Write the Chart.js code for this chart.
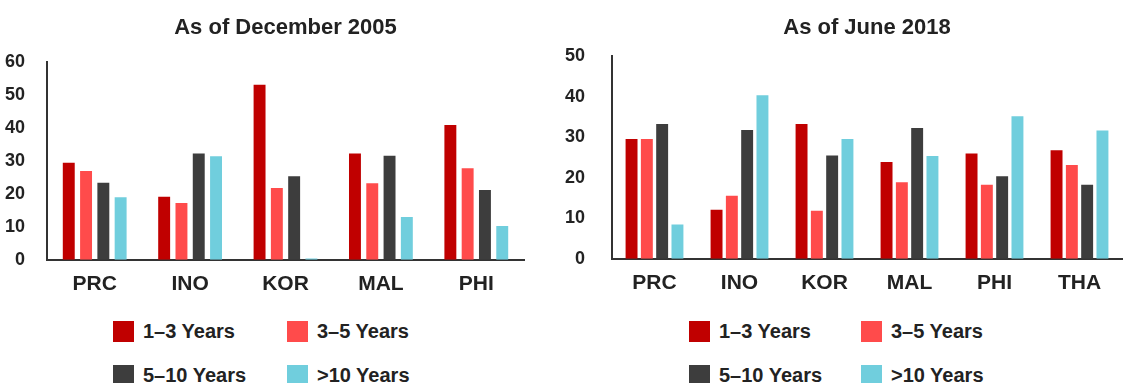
<!DOCTYPE html>
<html>
<head>
<meta charset="utf-8">
<script src="https://cdn.jsdelivr.net/npm/chart.js@4/dist/chart.umd.min.js"></script>
<style>
  body { margin: 0; background: #fff; width: 1127px; height: 383px; overflow: hidden; position: relative; font-family: "Liberation Sans", Arial, sans-serif; }
  .box { position: absolute; top: 0; height: 308px; }
  .legend { position: absolute; font-weight: bold; font-size: 20px; color: #222; }
  .item { position: absolute; white-space: nowrap; line-height: 21px; }
  .item span.sw { position: absolute; left: 0; top: 0; width: 21px; height: 21px; }
  .item span.tx { position: absolute; top: 0; }
</style>
</head>
<body>
<div class="box" style="left:0;width:545px"><canvas id="chart2005"></canvas></div>
<div class="box" style="left:545px;width:582px"><canvas id="chart2018"></canvas></div>
<div class="legend" id="legend2005"></div>
<div class="legend" id="legend2018"></div>
<script>
// series labels and colours
const seriesNames = ['1–3 Years', '3–5 Years', '5–10 Years', '>10 Years'];
const seriesColors = ['#C00000', '#FF4B4B', '#3D3D3D', '#70CEDD'];

// As of December 2005
const cats2005 = ['PRC', 'INO', 'KOR', 'MAL', 'PHI'];
const y1to3_2005 = [29.5, 19.2, 53.2, 32.3, 41.0];
const y3to5_2005 = [27.0, 17.3, 21.8, 23.3, 27.8];
const y5to10_2005 = [23.4, 32.3, 25.4, 31.6, 21.2];
const y10plus_2005 = [19.0, 31.5, 0.4, 13.0, 10.3];
const ticks2005 = [0, 10, 20, 30, 40, 50, 60];

// As of June 2018
const cats2018 = ['PRC', 'INO', 'KOR', 'MAL', 'PHI', 'THA'];
const y1to3_2018 = [29.6, 12.1, 33.3, 23.9, 26.0, 26.8];
const y3to5_2018 = [29.6, 15.6, 11.9, 18.9, 18.3, 23.2];
const y5to10_2018 = [33.3, 31.8, 25.5, 32.3, 20.4, 18.3];
const y10plus_2018 = [8.5, 40.4, 29.6, 25.4, 35.2, 31.7];
const ticks2018 = [0, 10, 20, 30, 40, 50];

const font = '"Liberation Sans", Arial, sans-serif';
const txt = '#222';
const axisCol = '#333';

function makeDatasets(series, barPct, catPct) {
    return series.map((vals, i) => ({
        label: seriesNames[i],
        data: vals,
        backgroundColor: seriesColors[i],
        barPercentage: barPct,
        categoryPercentage: catPct
    }));
}

function buildChart(id, cats, series, tickVals, opts) {
    const ctx = document.getElementById(id).getContext('2d');
    return new Chart(ctx, {
        type: 'bar',
        data: {
            labels: cats,
            datasets: makeDatasets(series, opts.barPct, opts.catPct)
        },
        options: {
            responsive: true,
            maintainAspectRatio: false,
            animation: false,
            layout: { padding: { left: 0, right: opts.padRight, top: 0, bottom: opts.padBottom } },
            plugins: {
                legend: { display: false },
                tooltip: { enabled: false },
                title: {
                    display: true,
                    text: opts.title,
                    fullSize: false,
                    color: txt,
                    font: { family: font, size: 22, weight: 'bold' },
                    padding: { top: 15, bottom: opts.titleBottom }
                }
            },
            scales: {
                x: {
                    grid: { display: false },
                    border: { display: true, color: axisCol, width: 2 },
                    ticks: { color: txt, padding: 4, font: { family: font, size: 21, weight: 'bold' } }
                },
                y: {
                    min: tickVals[0],
                    max: tickVals[tickVals.length - 1],
                    afterBuildTicks: s => { s.ticks = tickVals.map(v => ({ value: v })); },
                    grid: { display: false },
                    border: { display: true, color: axisCol, width: 2 },
                    ticks: { color: txt, padding: opts.yPad, font: { family: font, size: 18, weight: 'bold' } },
                    afterFit: s => { s.width = opts.yWidth; }
                }
            }
        }
    });
}

const chart2005 = buildChart('chart2005', cats2005,
    [y1to3_2005, y3to5_2005, y5to10_2005, y10plus_2005], ticks2005,
    { title: 'As of December 2005', barPct: 0.69, catPct: 0.725, padRight: 21, padBottom: 7, titleBottom: 21, yPad: 14, yWidth: 47 });

const chart2018 = buildChart('chart2018', cats2018,
    [y1to3_2018, y3to5_2018, y5to10_2018, y10plus_2018], ticks2018,
    { title: 'As of June 2018', barPct: 0.78, catPct: 0.72, padRight: 5, padBottom: 8, titleBottom: 15, yPad: 19, yWidth: 67 });

// 2x2 legend below each chart
function buildLegend(id, chart, left, col2, top) {
    const el = document.getElementById(id);
    el.style.left = left + 'px';
    el.style.top = top + 'px';
    chart.data.datasets.forEach((ds, i) => {
        const item = document.createElement('div');
        item.className = 'item';
        item.style.left = (i % 2 ? col2 : 0) + 'px';
        item.style.top = (Math.floor(i / 2) * 44) + 'px';
        item.innerHTML = '<span class="sw" style="background:' + ds.backgroundColor + '"></span>' +
            '<span class="tx" style="left:' + 30 + 'px"></span>';
        item.querySelector('.tx').textContent = ds.label;
        el.appendChild(item);
    });
}

buildLegend('legend2005', chart2005, 113, 174, 321);
buildLegend('legend2018', chart2018, 689, 172, 321);
</script>
</body>
</html>
